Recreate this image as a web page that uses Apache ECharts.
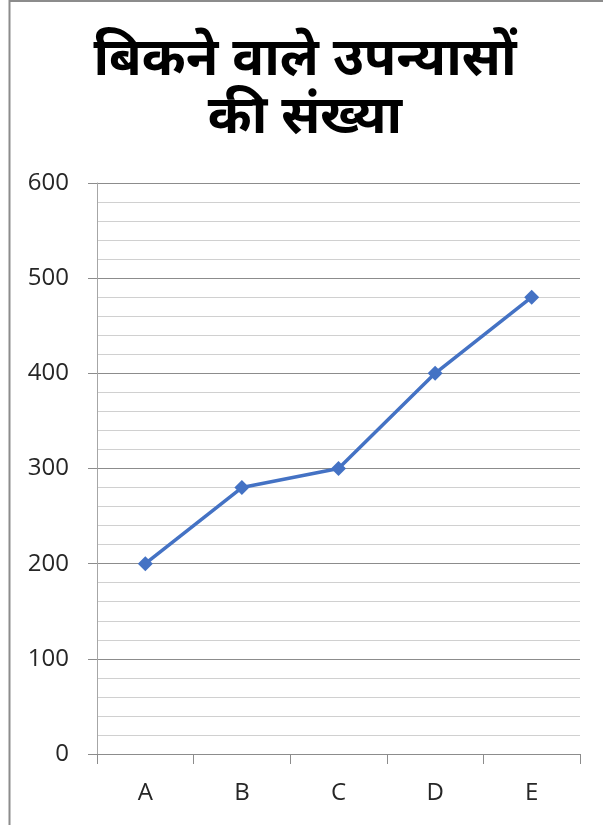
<!DOCTYPE html>
<html>
<head>
<meta charset="utf-8">
<script src="https://cdn.jsdelivr.net/npm/echarts@6/dist/echarts.min.js"></script>
<style>
html,body{margin:0;padding:0;background:#fff;}
#c{width:603px;height:825px;}
</style>
</head>
<body>
<div id="c"></div>
<script>
const titleText = 'बिकने वाले उपन्यासों\nकी संख्या';
const categories = ['A', 'B', 'C', 'D', 'E'];
const values = [200, 280, 300, 400, 480];
const yMin = 0, yMax = 600, yInterval = 100;

const chart = echarts.init(document.getElementById('c'));
chart.setOption({
  animation: false,
  backgroundColor: '#fff',
  graphic: [
    { type: 'line', shape: { x1: 9.5, y1: 0, x2: 9.5, y2: 825 }, style: { stroke: '#8c8c8c', lineWidth: 2 } },
    { type: 'line', shape: { x1: 9, y1: 1, x2: 603, y2: 1 }, style: { stroke: '#8c8c8c', lineWidth: 2 } }
  ],
  title: {
    text: titleText,
    left: 300,
    textAlign: 'center',
    top: 26,
    textStyle: { fontSize: 53, fontWeight: 'bold', color: '#000', lineHeight: 58, fontFamily: 'Noto Sans, sans-serif' }
  },
  grid: { left: 97, right: 23, top: 183, bottom: 71, containLabel: false },
  xAxis: {
    type: 'category',
    data: categories,
    boundaryGap: true,
    axisLine: { lineStyle: { color: '#8c8c8c', width: 1 } },
    axisTick: { show: true, length: 10, lineStyle: { color: '#8c8c8c' } },
    axisLabel: { fontSize: 24, color: '#262626', margin: 27, fontFamily: 'Open Sans, sans-serif' },
    splitLine: { show: false }
  },
  yAxis: {
    type: 'value',
    min: yMin, max: yMax, interval: yInterval,
    axisLine: { show: true, lineStyle: { color: '#a6a6a6', width: 1 } },
    axisTick: { show: true, length: 9, lineStyle: { color: '#8c8c8c' } },
    axisLabel: { fontSize: 24, color: '#262626', margin: 28, fontFamily: 'Open Sans, sans-serif' },
    splitLine: { show: true, lineStyle: { color: '#8c8c8c', width: 1 } },
    minorTick: { show: false, splitNumber: 5 },
    minorSplitLine: { show: true, lineStyle: { color: '#d0d0d0', width: 1 } }
  },
  series: [{
    type: 'line',
    data: values,
    symbol: 'diamond',
    symbolSize: 15,
    lineStyle: { color: '#4472C4', width: 3.5 },
    itemStyle: { color: '#4472C4' }
  }]
});
</script>
</body>
</html>
